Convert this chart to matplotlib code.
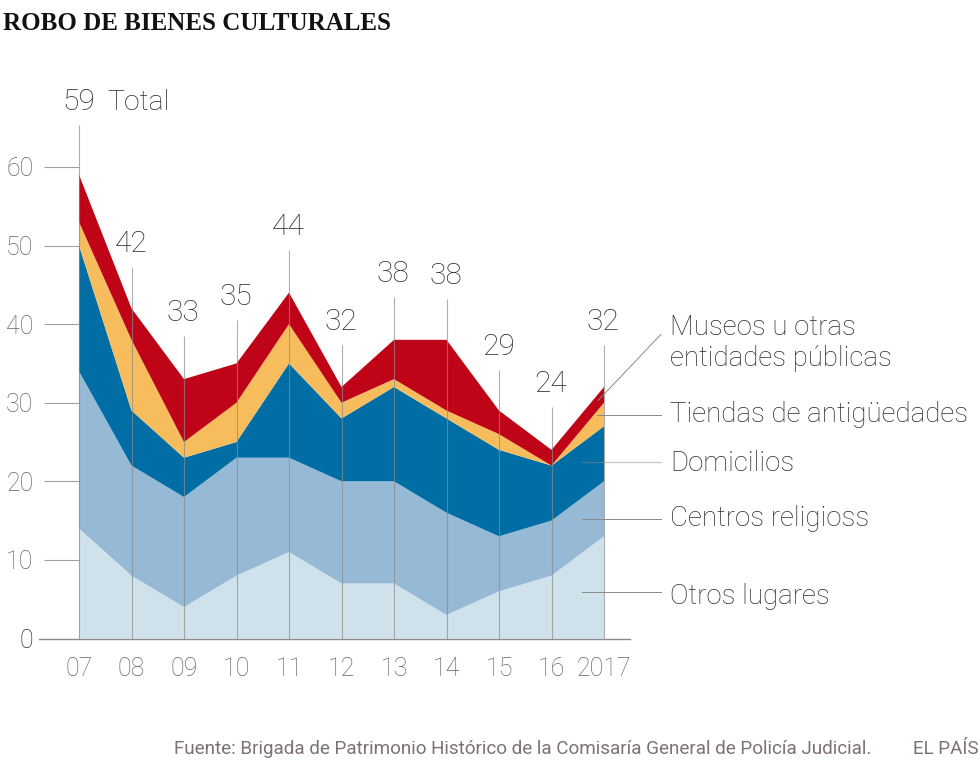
"""Robo de bienes culturales: stacked area by place, 2007-2017."""

import matplotlib

matplotlib.use("Agg")
import matplotlib.pyplot as plt

plt.rcParams["font.family"] = ["Roboto", "DejaVu Sans"]

W, H = 980, 773

year_labels = ["07", "08", "09", "10", "11", "12", "13", "14", "15", "16", "2017"]
otros = [14, 8, 4, 8, 11, 7, 7, 3, 6, 8, 13]
religiosos = [20, 14, 14, 15, 12, 13, 13, 13, 7, 7, 7]
domicilios = [16, 7, 5, 2, 12, 8, 12, 12, 11, 7, 7]
tiendas = [3, 9, 2, 5, 5, 2, 1, 1, 2, 0, 3]
museos = [6, 4, 8, 5, 4, 2, 5, 9, 3, 2, 2]
totals = [59, 42, 33, 35, 44, 32, 38, 38, 29, 24, 32]
stem_tops = [65.3, 47.3, 38.5, 40.5, 49.4, 37.4, 43.4, 43.2, 34.2, 29.5, 37.4]
y_ticks = [0, 10, 20, 30, 40, 50, 60]

colors = ["#cfe2ec", "#96b9d6", "#006ea4", "#f7bd5c", "#bf0418"]
TEXT = "#2f292d"
SOFT = "#6b6164"
LINE = "#8a8a8a"
WEIGHT = "light"


def ftext(x, y, s, **kw):
    # x, y in reference pixels, y counted from the top
    kw.setdefault("color", TEXT)
    kw.setdefault("va", "baseline")
    return fig.text(x / W, 1 - y / H, s, **kw)


fig = plt.figure(figsize=(W / 100, H / 100), dpi=100, facecolor="white")

# axes box: 39-630 px across, baseline at 638.5, 7.86 px per unit
top_px = 100
ax = fig.add_axes([39 / W, 1 - 638.5 / H, 591 / W, (638.5 - top_px) / H])
ax.set_xlim((39 - 79) / 52.5, (630 - 79) / 52.5)
ax.set_ylim(0, (638.5 - top_px) / 7.86)
ax.patch.set_visible(False)

xs = list(range(len(year_labels)))
ax.stackplot(xs, otros, religiosos, domicilios, tiendas, museos, colors=colors, linewidth=0)

for x, top, total in zip(xs, stem_tops, totals):
    ax.plot([x, x], [0, top], color=LINE, lw=0.8, alpha=0.7, solid_capstyle="butt")
    ax.annotate(str(total), (x, top), xytext=(-0.5, 10.8), textcoords="offset points",
                ha="center", va="baseline", fontsize=21.5, color=TEXT, fontweight=WEIGHT)

ax.hlines(y_ticks[1:], (44 - 79) / 52.5, 0, color=LINE, lw=0.8, alpha=0.8)

for side in ["top", "left", "right"]:
    ax.spines[side].set_visible(False)
ax.spines["bottom"].set_color(LINE)
ax.spines["bottom"].set_linewidth(1)

ax.set_xticks(xs, year_labels)
ax.set_yticks(y_ticks, [str(v) for v in y_ticks])
ax.tick_params(axis="x", length=0, pad=13, labelsize=18, labelcolor=SOFT)
ax.tick_params(axis="y", length=0, pad=4, labelsize=18, labelcolor=SOFT)
ax.get_yticklabels()[0].set_color(TEXT)
for lab in ax.get_xticklabels() + ax.get_yticklabels():
    lab.set_fontweight(WEIGHT)

# leader lines to the side labels
x_end = (661 - 79) / 52.5
ax.plot([9.89, x_end], [30.3, 38.7], color=LINE, lw=0.7, clip_on=False)
ax.plot([9.86, x_end], [28.4, 28.4], color=LINE, lw=0.7, clip_on=False)
ax.plot([9.58, x_end], [22.4, 22.4], color=LINE, lw=1, alpha=0.45, clip_on=False)
ax.plot([9.58, x_end], [15.2, 15.2], color=LINE, lw=0.7, clip_on=False)
ax.plot([9.58, x_end], [5.9, 5.9], color=LINE, lw=0.7, clip_on=False)

LABEL_SIZE = 19.9
ftext(107, 110, "Total", fontsize=20.5, fontweight=WEIGHT)
ftext(670, 335, "Museos u otras", fontsize=LABEL_SIZE, fontweight=WEIGHT)
ftext(670, 366, "entidades públicas", fontsize=LABEL_SIZE, fontweight=WEIGHT)
ftext(670, 422, "Tiendas de antigüedades", fontsize=LABEL_SIZE, fontweight=WEIGHT)
ftext(670, 471, "Domicilios", fontsize=LABEL_SIZE, fontweight=WEIGHT)
ftext(670, 526, "Centros religioss", fontsize=LABEL_SIZE, fontweight=WEIGHT)
ftext(670, 604, "Otros lugares", fontsize=LABEL_SIZE, fontweight=WEIGHT)

ftext(3, 30, "ROBO DE BIENES CULTURALES", fontsize=18, fontweight="bold",
      family="Liberation Serif", color="#111111")
ftext(174, 754, "Fuente: Brigada de Patrimonio Histórico de la Comisaría General de Policía Judicial.",
      fontsize=13.6, color="#7c7275")
ftext(913, 754, "EL PAÍS", fontsize=13.6, color="#7c7275")

fig.savefig("out.png", dpi=100)
